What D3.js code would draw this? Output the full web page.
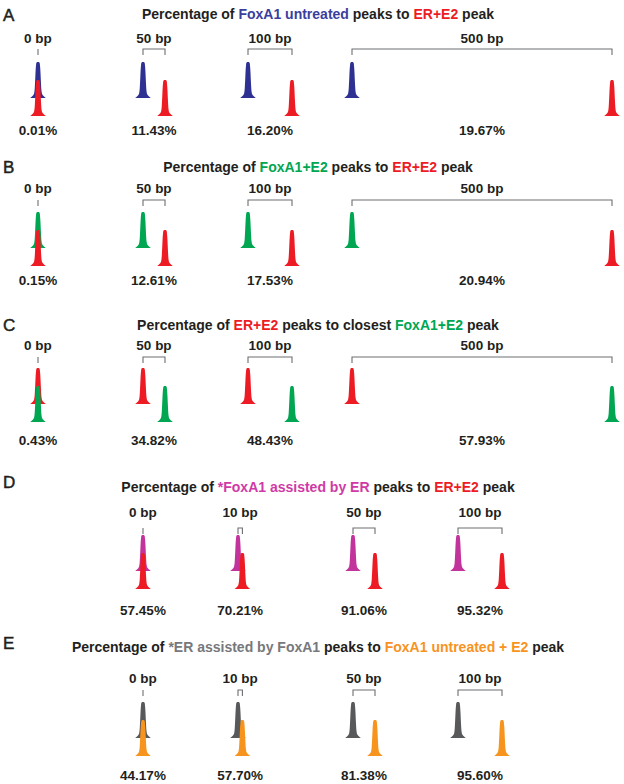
<!DOCTYPE html>
<html>
<head>
<meta charset="utf-8">
<script src="https://cdn.jsdelivr.net/npm/d3@7"></script>
<style>
  html, body { margin: 0; padding: 0; background: #fff; }
  svg { display: block; }
  text { font-family: "Liberation Sans", Arial, Helvetica, sans-serif; }
</style>
</head>
<body>
<svg id="chart" width="624" height="784"></svg>
<script>
// ---------------- DATA ----------------
const panelLetters = ["A", "B", "C", "D", "E"];
const distancesABC = [0, 50, 100, 500];
const distancesDE = [0, 10, 50, 100];
const pctA = [0.01, 11.43, 16.20, 19.67];
const pctB = [0.15, 12.61, 17.53, 20.94];
const pctC = [0.43, 34.82, 48.43, 57.93];
const pctD = [57.45, 70.21, 91.06, 95.32];
const pctE = [44.17, 57.70, 81.38, 95.60];
// title pieces: [text, colour key]
const titleA = [["Percentage of ", "k"], ["FoxA1 untreated", "blue"], [" peaks to ", "k"], ["ER+E2", "red"], [" peak", "k"]];
const titleB = [["Percentage of ", "k"], ["FoxA1+E2", "green"], [" peaks to ", "k"], ["ER+E2", "red"], [" peak", "k"]];
const titleC = [["Percentage of ", "k"], ["ER+E2", "red"], [" peaks to closest ", "k"], ["FoxA1+E2", "green"], [" peak", "k"]];
const titleD = [["Percentage of ", "k"], ["*FoxA1 assisted by ER", "magenta"], [" peaks to ", "k"], ["ER+E2", "red"], [" peak", "k"]];
const titleE = [["Percentage of ", "k"], ["*ER assisted by FoxA1", "gray"], [" peaks to ", "k"], ["FoxA1 untreated + E2", "orange"], [" peak", "k"]];
// peak colours per panel: [upper (query) peak, lower (reference) peak]
const peakPairs = [["blue", "red"], ["green", "red"], ["red", "green"], ["magenta", "red"], ["gray", "orange"]];

// ---------------- STYLE / LAYOUT ----------------
const colors = {
  k: "#231f20", blue: "#2e3192", red: "#ed1c24", green: "#00a651",
  magenta: "#c2339c", gray: "#58595b", orange: "#f7941d", bracket: "#6d6e71"
};
const titleColors = Object.assign({}, colors, { blue: "#3a3f9e", magenta: "#d03aa6", gray: "#77787b", orange: "#f7931e" });

// vertical layout per panel
const layout = [
  { letterY: 21,  titleY: 19,  labelY: 43,  bracketY: 49,  topY: 62,  pctY: 135, slots: [38, 143, 248, 352] },
  { letterY: 173, titleY: 172, labelY: 193, bracketY: 200, topY: 212, pctY: 285, slots: [38, 143, 248, 352] },
  { letterY: 331, titleY: 330, labelY: 350, bracketY: 357, topY: 368, pctY: 445, slots: [38, 143, 248, 352] },
  { letterY: 488, titleY: 492, labelY: 517, bracketY: 528, topY: 535, pctY: 615, slots: [143, 238, 353, 458] },
  { letterY: 649, titleY: 652, labelY: 683, bracketY: 690, topY: 702, pctY: 780, slots: [143, 238, 353, 458] }
];
const peakH = 36, lowerDrop = 18, tickLen = 6;

const panels = [
  { letter: panelLetters[0], title: titleA, dist: distancesABC, pct: pctA, pair: peakPairs[0] },
  { letter: panelLetters[1], title: titleB, dist: distancesABC, pct: pctB, pair: peakPairs[1] },
  { letter: panelLetters[2], title: titleC, dist: distancesABC, pct: pctC, pair: peakPairs[2] },
  { letter: panelLetters[3], title: titleD, dist: distancesDE, pct: pctD, pair: peakPairs[3] },
  { letter: panelLetters[4], title: titleE, dist: distancesDE, pct: pctE, pair: peakPairs[4] }
];

// distance (bp) -> horizontal pixel offset
const bpScale = d3.scaleLinear().domain([0, 100, 500]).range([0, 44, 260]);
const fmtPct = v => d3.format(".2f")(v) + "%";

// peak profile: t (0 top .. 1 base) -> half width
const profile = [[0, 1.0], [0.04, 1.8], [0.3, 2.5], [0.7, 3.2], [0.85, 3.7], [0.92, 4.6], [0.97, 6.6], [1, 7.8]];

function peakPath(cx, top) {
  const y = d3.scaleLinear().domain([0, 1]).range([top, top + peakH]);
  return d3.area()
    .y(d => y(d[0]))
    .x0(d => cx - d[1])
    .x1(d => cx + d[1])
    .curve(d3.curveMonotoneY)(profile);
}

const svg = d3.select("#chart");

panels.forEach((p, pi) => {
  const L = layout[pi];
  const g = svg.append("g");

  // panel letter
  g.append("text")
    .attr("x", 3).attr("y", L.letterY)
    .attr("font-size", 17).attr("fill", colors.k)
    .attr("stroke", colors.k).attr("stroke-width", 0.5)
    .text(p.letter);

  // title
  const t = g.append("text")
    .attr("x", 318).attr("y", L.titleY)
    .attr("text-anchor", "middle")
    .attr("font-size", 14).attr("font-weight", "bold");
  p.title.forEach(([s, c]) => {
    t.append("tspan").attr("fill", titleColors[c]).text(s);
  });

  p.dist.forEach((d, i) => {
    const x0 = L.slots[i];
    const x1 = x0 + bpScale(d);
    const mid = (x0 + x1) / 2;

    // distance label
    g.append("text")
      .attr("x", mid).attr("y", L.labelY)
      .attr("text-anchor", "middle")
      .attr("font-size", 13.5).attr("font-weight", "bold").attr("fill", colors.k)
      .text(d + " bp");

    // bracket
    const by = L.bracketY;
    const bpath = d === 0
      ? `M${x0},${by} V${by + tickLen}`
      : `M${x0},${by + tickLen} V${by} H${x1} V${by + tickLen}`;
    g.append("path")
      .attr("d", bpath)
      .attr("fill", "none")
      .attr("stroke", colors.bracket)
      .attr("stroke-width", 1.1);

    // upper (query) peak
    g.append("path")
      .attr("d", peakPath(x0, L.topY))
      .attr("fill", colors[p.pair[0]]);
    // lower (reference) peak, drawn on top
    g.append("path")
      .attr("d", peakPath(x1, L.topY + lowerDrop))
      .attr("fill", colors[p.pair[1]]);

    // percentage
    g.append("text")
      .attr("x", mid).attr("y", L.pctY)
      .attr("text-anchor", "middle")
      .attr("font-size", 13.5).attr("font-weight", "bold").attr("fill", colors.k)
      .text(fmtPct(p.pct[i]));
  });
});
</script>
</body>
</html>
